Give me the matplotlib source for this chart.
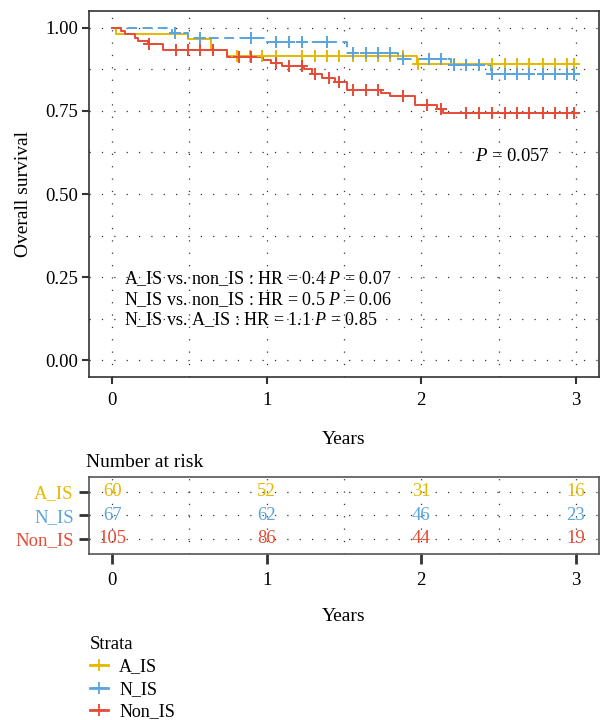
import numpy as np
import matplotlib
matplotlib.use("Agg")
import matplotlib.pyplot as plt
from matplotlib.lines import Line2D

plt.rcParams['font.family'] = ['Liberation Serif', 'DejaVu Serif']
plt.rcParams['mathtext.fontset'] = 'custom'
plt.rcParams['mathtext.rm'] = 'Liberation Serif'
plt.rcParams['mathtext.it'] = 'Liberation Serif:italic'
plt.rcParams['lines.scale_dashes'] = False

# Survival step data (time in years, survival after the step)
groups = ["A_IS", "N_IS", "Non_IS"]
colors = ["#E7B800", "#5AA5DC", "#E64B35"]

a_times = [0, 0.025, 0.49, 0.64, 0.74, 1.97]
a_surv = [1.0, 0.983, 0.967, 0.934, 0.917, 0.890]
a_cens = [0.653, 0.805, 0.89, 0.97, 1.06, 1.226, 1.31, 1.39, 1.47, 1.556, 1.64,
          1.72, 1.80, 1.88, 1.98, 2.21, 2.455, 2.54, 2.62, 2.70, 2.79, 2.865,
          2.945, 2.99]

n_times = [0, 0.39, 0.49, 1.0, 1.52, 1.85, 2.19, 2.45]
n_surv = [1.0, 0.985, 0.970, 0.957, 0.924, 0.906, 0.889, 0.862]
n_cens = [0.406, 0.57, 0.90, 1.06, 1.146, 1.226, 1.39, 1.556, 1.64, 1.72, 1.80,
          1.88, 2.05, 2.13, 2.21, 2.29, 2.375, 2.455, 2.54, 2.62, 2.70, 2.79,
          2.865, 2.945, 2.99]

r_times = [0, 0.057, 0.083, 0.147, 0.167, 0.23, 0.33, 0.74, 0.976, 1.03, 1.10,
           1.24, 1.29, 1.36, 1.44, 1.52, 1.74, 1.80, 1.96, 2.10, 2.14]
r_surv = [1.0, 0.990, 0.981, 0.971, 0.962, 0.952, 0.933, 0.914, 0.904, 0.895,
          0.886, 0.876, 0.862, 0.850, 0.838, 0.813, 0.805, 0.795, 0.768, 0.756,
          0.745]
r_cens = [0.24, 0.41, 0.49, 0.57, 0.65, 0.82, 0.90, 1.06, 1.145, 1.226, 1.31,
          1.40, 1.47, 1.56, 1.64, 1.72, 1.88, 2.04, 2.13, 2.29, 2.375, 2.455,
          2.54, 2.62, 2.70, 2.79, 2.865, 2.945, 2.99]

end_time = 3.0

risk_times = [0, 1, 2, 3]
risk_a = [60, 52, 31, 16]
risk_n = [67, 62, 46, 23]
risk_r = [105, 86, 44, 19]

hr_lines = [
    r"A_IS vs. non_IS : HR = 0.4 $\it{P}$ = 0.07",
    r"N_IS vs. non_IS : HR = 0.5 $\it{P}$ = 0.06",
    r"N_IS vs. A_IS : HR = 1.1 $\it{P}$ = 0.85",
]

series = [(a_times, a_surv, a_cens), (n_times, n_surv, n_cens),
          (r_times, r_surv, r_cens)]
styles = ["-", (0, (7, 4)), "-"]

fig = plt.figure(figsize=(6.01, 7.20), dpi=100)
ax = fig.add_axes([0.148, 0.4764, 0.8487, 0.5083])

grid_kw = dict(color="#333333", linewidth=0.9, linestyle=(0, (0.9, 8.0)))

for (t, s, c), col, ls in zip(series, colors, styles):
    tt = np.append(t, end_time)
    ss = np.append(s, s[-1])
    ax.step(tt, ss, where="post", color=col, lw=1.4, linestyle=ls, zorder=3)
    idx = np.searchsorted(t, c, side="right") - 1
    cy = np.array(s)[idx]
    ax.plot(c, cy, linestyle="none", marker="+", markersize=9,
            markeredgewidth=1.4, color=col, zorder=4)

ax.set_xlim(-0.15, 3.15)
ax.set_ylim(-0.051, 1.051)
ax.set_xticks([0, 1, 2, 3])
ax.set_xticks([0.5, 1.5, 2.5], minor=True)
ax.set_yticks([0, 0.25, 0.5, 0.75, 1.0])
ax.set_yticks([0.125, 0.375, 0.625, 0.875], minor=True)
ax.set_yticklabels(["0.00", "0.25", "0.50", "0.75", "1.00"])
ax.grid(True, which="both", **grid_kw)
ax.set_axisbelow(True)
ax.tick_params(which="major", length=5, width=1.5, color="#333333",
               labelsize=13.5, pad=3)
ax.tick_params(axis="x", pad=6)
ax.tick_params(which="minor", length=0)
for sp in ax.spines.values():
    sp.set_color("#333333")
    sp.set_linewidth(1.2)
ax.set_ylabel("Overall survival", fontsize=14, labelpad=9)
ax.set_xlabel("Years", fontsize=14, labelpad=16)

ax.text(2.35, 0.614, r"$\it{P}$ = 0.057", fontsize=13.5, va="center")
for i, line in enumerate(hr_lines):
    ax.text(0.076, 0.244 - i * 0.062, line, fontsize=13, va="center")

# Number at risk table
rax = fig.add_axes([0.148, 0.2306, 0.8487, 0.1073])
for row, (vals, col) in enumerate(zip([risk_a, risk_n, risk_r], colors)):
    y = 3 - row
    for t, v in zip(risk_times, vals):
        rax.text(t, y, str(v), color=col, fontsize=13.5, ha="center",
                 va="center")
rax.set_xlim(-0.15, 3.15)
rax.set_ylim(0.36, 3.65)
rax.set_xticks([0, 1, 2, 3])
rax.set_xticks([0.5, 1.5, 2.5], minor=True)
rax.set_yticks([3, 2, 1])
rax.set_yticklabels(groups)
for lab, col in zip(rax.get_yticklabels(), colors):
    lab.set_color(col)
rax.grid(True, which="both", **grid_kw)
rax.set_axisbelow(True)
rax.tick_params(which="major", length=7, width=2, color="#333333",
                labelsize=13.5, pad=4)
rax.tick_params(axis="x", pad=6)
rax.tick_params(which="minor", length=0)
for sp in rax.spines.values():
    sp.set_color("#555555")
    sp.set_linewidth(1.2)
rax.set_xlabel("Years", fontsize=14, labelpad=14)
rax.set_title("Number at risk", fontsize=14, loc="left", x=-0.005, pad=7)

handles = [Line2D([0], [0], color=col, lw=2, marker="+", markersize=8,
                  markeredgewidth=1.3) for col in colors]
fig.legend(handles, groups, title="Strata", loc="upper left",
           bbox_to_anchor=(0.135, 0.129), frameon=False, fontsize=13,
           title_fontsize=13.5, handlelength=1.0, handletextpad=0.6,
           labelspacing=0.3, alignment="left", borderpad=0.0)

fig.savefig("out.png", dpi=100)
